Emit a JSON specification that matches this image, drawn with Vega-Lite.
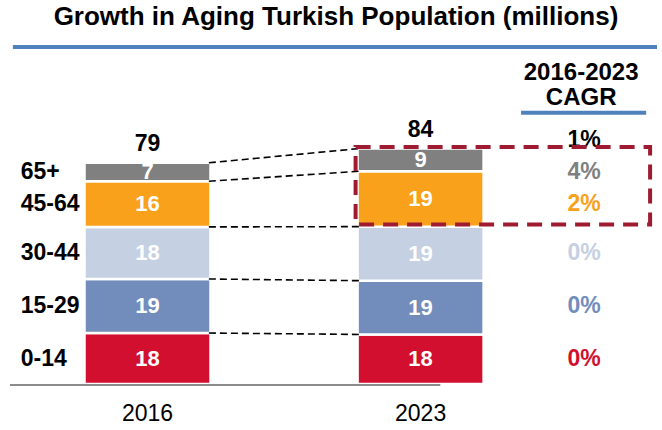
{
  "$schema": "https://vega.github.io/schema/vega-lite/v6.json",
  "width": 662,
  "height": 430,
  "autosize": {"type": "fit", "contains": "padding"},
  "padding": {"top": 4, "left": 0, "right": 0, "bottom": 0},
  "background": "#ffffff",
  "title": {
    "text": "Growth in Aging Turkish Population (millions)",
    "font": "Liberation Sans",
    "fontSize": 26,
    "fontWeight": "bold",
    "color": "#000000",
    "anchor": "middle",
    "offset": 8,
    "dx": 5
  },
  "config": {
    "view": {"stroke": null},
    "font": "Liberation Sans",
    "text": {"font": "Liberation Sans", "fontSize": 23, "fontWeight": "bold"}
  },
  "datasets": {
    "pop": [
      {"year": 2016, "age": "0-14", "value": 18.2, "label": "18", "cagr": "0%"},
      {"year": 2016, "age": "15-29", "value": 19.3, "label": "19", "cagr": "0%"},
      {"year": 2016, "age": "30-44", "value": 18.6, "label": "18", "cagr": "0%"},
      {"year": 2016, "age": "45-64", "value": 16.3, "label": "16", "cagr": "2%"},
      {"year": 2016, "age": "65+", "value": 6.6, "label": "7", "cagr": "4%"},
      {"year": 2023, "age": "0-14", "value": 17.7, "label": "18"},
      {"year": 2023, "age": "15-29", "value": 19.2, "label": "19"},
      {"year": 2023, "age": "30-44", "value": 19.3, "label": "19"},
      {"year": 2023, "age": "45-64", "value": 19.8, "label": "19"},
      {"year": 2023, "age": "65+", "value": 8.1, "label": "9"}
    ],
    "totals": [
      {"year": 2016, "total": 79.0, "label": "79", "cagr": "1%"},
      {"year": 2023, "total": 84.1, "label": "84"}
    ],
    "links": [
      {"age": "0-14", "top2016": 18.2, "top2023": 17.7},
      {"age": "15-29", "top2016": 37.5, "top2023": 36.9},
      {"age": "30-44", "top2016": 56.1, "top2023": 56.2},
      {"age": "45-64", "top2016": 72.4, "top2023": 76.0},
      {"age": "65+", "top2016": 79.0, "top2023": 84.1}
    ]
  },
  "layer": [
    {
      "data": {"name": "pop"},
      "mark": {"type": "bar", "width": 126, "stroke": "#ffffff", "strokeWidth": 2.5},
      "encoding": {
        "x": {"field": "year", "type": "quantitative", "scale": {"domain": [2012.347, 2029.06], "nice": false, "zero": false}, "axis": null},
        "y": {
          "field": "value", "type": "quantitative", "stack": "zero",
          "scale": {"domain": [-16.43, 123.57], "nice": false, "zero": false},
          "axis": null
        },
        "color": {
          "field": "age", "type": "nominal",
          "scale": {
            "domain": ["0-14", "15-29", "30-44", "45-64", "65+"],
            "range": ["#D20F2E", "#728DBB", "#C5D0E2", "#F9A11B", "#808080"]
          },
          "legend": null
        },
        "order": {"field": "age", "sort": "ascending"}
      }
    },
    {
      "data": {"name": "pop"},
      "mark": {"type": "text", "color": "#ffffff", "baseline": "middle", "align": "center", "fontSize": 22},
      "encoding": {
        "x": {"field": "year", "type": "quantitative", "scale": {"domain": [2012.347, 2029.06], "nice": false, "zero": false}, "axis": null},
        "y": {"field": "value", "type": "quantitative", "stack": "zero", "bandPosition": 0.5, "scale": {"domain": [-16.43, 123.57], "nice": false, "zero": false}, "axis": null},
        "detail": {"field": "age", "type": "nominal"},
        "order": {"field": "age", "sort": "ascending"},
        "text": {"field": "label", "type": "nominal"}
      }
    },
    {
      "data": {"name": "pop"},
      "transform": [{"filter": "datum.year == 2016"}],
      "mark": {"type": "text", "color": "#000000", "baseline": "middle", "align": "left"},
      "encoding": {
        "x": {"datum": 2012.751, "type": "quantitative", "scale": {"domain": [2012.347, 2029.06], "nice": false, "zero": false}, "axis": null},
        "y": {"field": "value", "type": "quantitative", "stack": "zero", "bandPosition": 0.5, "scale": {"domain": [-16.43, 123.57], "nice": false, "zero": false}, "axis": null},
        "detail": {"field": "age", "type": "nominal"},
        "order": {"field": "age", "sort": "ascending"},
        "text": {"field": "age", "type": "nominal"}
      }
    },
    {
      "data": {"name": "pop"},
      "transform": [{"filter": "datum.year == 2016"}],
      "mark": {"type": "text", "baseline": "middle", "align": "center"},
      "encoding": {
        "x": {"datum": 2027.19, "type": "quantitative", "scale": {"domain": [2012.347, 2029.06], "nice": false, "zero": false}, "axis": null},
        "y": {"field": "value", "type": "quantitative", "stack": "zero", "bandPosition": 0.5, "scale": {"domain": [-16.43, 123.57], "nice": false, "zero": false}, "axis": null},
        "color": {"field": "age", "type": "nominal", "legend": null},
        "order": {"field": "age", "sort": "ascending"},
        "text": {"field": "cagr", "type": "nominal"}
      }
    },
    {
      "data": {"name": "totals"},
      "mark": {"type": "text", "color": "#000000", "baseline": "alphabetic", "align": "center", "dy": -12},
      "encoding": {
        "x": {"field": "year", "type": "quantitative", "scale": {"domain": [2012.347, 2029.06], "nice": false, "zero": false}, "axis": null},
        "y": {"field": "total", "type": "quantitative", "scale": {"domain": [-16.43, 123.57], "nice": false, "zero": false}, "axis": null},
        "text": {"field": "label", "type": "nominal"}
      }
    },
    {
      "data": {"name": "totals"},
      "transform": [{"filter": "datum.year == 2016"}],
      "mark": {"type": "text", "color": "#000000", "baseline": "alphabetic", "align": "center", "dy": -16},
      "encoding": {
        "x": {"datum": 2027.19, "type": "quantitative", "scale": {"domain": [2012.347, 2029.06], "nice": false, "zero": false}, "axis": null},
        "y": {"field": "total", "type": "quantitative", "scale": {"domain": [-16.43, 123.57], "nice": false, "zero": false}, "axis": null},
        "text": {"field": "cagr", "type": "nominal"}
      }
    },
    {
      "data": {"name": "totals"},
      "mark": {"type": "text", "color": "#000000", "baseline": "middle", "align": "center", "fontWeight": "normal", "fontSize": 23},
      "encoding": {
        "x": {"field": "year", "type": "quantitative", "scale": {"domain": [2012.347, 2029.06], "nice": false, "zero": false}, "axis": null},
        "y": {"datum": -10.6, "type": "quantitative", "scale": {"domain": [-16.43, 123.57], "nice": false, "zero": false}, "axis": null},
        "text": {"field": "year", "type": "nominal"}
      }
    },
    {
      "data": {"name": "links"},
      "mark": {"type": "rule", "color": "#000000", "strokeWidth": 1.6, "strokeDash": [7, 4]},
      "encoding": {
        "x": {"datum": 2017.573, "type": "quantitative", "scale": {"domain": [2012.347, 2029.06], "nice": false, "zero": false}, "axis": null},
        "x2": {"datum": 2021.436},
        "y": {"field": "top2016", "type": "quantitative", "scale": {"domain": [-16.43, 123.57], "nice": false, "zero": false}, "axis": null},
        "y2": {"field": "top2023"}
      }
    },
    {
      "data": {"values": [{}]},
      "mark": {"type": "rect", "fill": null, "fillOpacity": 0, "stroke": "#9E1B32", "strokeWidth": 4, "strokeDash": [15, 9]},
      "encoding": {
        "x": {"datum": 2021.334, "type": "quantitative", "scale": {"domain": [2012.347, 2029.06], "nice": false, "zero": false}, "axis": null},
        "x2": {"datum": 2028.883},
        "y": {"datum": 84.64, "type": "quantitative", "scale": {"domain": [-16.43, 123.57], "nice": false, "zero": false}, "axis": null},
        "y2": {"datum": 56.96}
      }
    },
    {
      "data": {"values": [{}]},
      "mark": {"type": "rule", "color": "#8C8C8C", "strokeWidth": 2},
      "encoding": {
        "x": {"datum": 2012.473, "type": "quantitative", "scale": {"domain": [2012.347, 2029.06], "nice": false, "zero": false}, "axis": null},
        "x2": {"datum": 2023.505},
        "y": {"datum": -0.4, "type": "quantitative", "scale": {"domain": [-16.43, 123.57], "nice": false, "zero": false}, "axis": null}
      }
    },
    {
      "data": {"values": [{}]},
      "mark": {"type": "rule", "color": "#4F81BD", "strokeWidth": 4},
      "encoding": {
        "x": {"datum": 2012.549, "type": "quantitative", "scale": {"domain": [2012.347, 2029.06], "nice": false, "zero": false}, "axis": null},
        "x2": {"datum": 2029.06},
        "y": {"datum": 120.36, "type": "quantitative", "scale": {"domain": [-16.43, 123.57], "nice": false, "zero": false}, "axis": null}
      }
    },
    {
      "data": {"values": [{}]},
      "mark": {"type": "rule", "color": "#4F81BD", "strokeWidth": 4},
      "encoding": {
        "x": {"datum": 2025.576, "type": "quantitative", "scale": {"domain": [2012.347, 2029.06], "nice": false, "zero": false}, "axis": null},
        "x2": {"datum": 2028.782},
        "y": {"datum": 96.89, "type": "quantitative", "scale": {"domain": [-16.43, 123.57], "nice": false, "zero": false}, "axis": null}
      }
    },
    {
      "data": {"values": [{}]},
      "mark": {"type": "text", "text": ["2016-2023", "CAGR"], "color": "#000000", "baseline": "alphabetic", "align": "center", "fontSize": 24, "lineHeight": 25},
      "encoding": {
        "x": {"datum": 2027.116, "type": "quantitative", "scale": {"domain": [2012.347, 2029.06], "nice": false, "zero": false}, "axis": null},
        "y": {"datum": 108.57, "type": "quantitative", "scale": {"domain": [-16.43, 123.57], "nice": false, "zero": false}, "axis": null}
      }
    }
  ]
}
